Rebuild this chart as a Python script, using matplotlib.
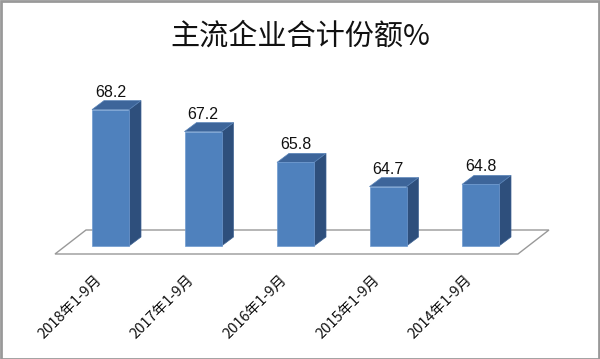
import numpy as np
import matplotlib
matplotlib.use("Agg")
import matplotlib.pyplot as plt
from matplotlib.patches import Polygon, Rectangle
from matplotlib.transforms import offset_copy

plt.rcParams['font.family'] = ['Noto Sans CJK SC', 'DejaVu Sans']

# data
categories = ['2018年1-9月', '2017年1-9月', '2016年1-9月', '2015年1-9月', '2014年1-9月']
values = [68.2, 67.2, 65.8, 64.7, 64.8]
title = '主流企业合计份额%'

front_c = '#4F81BD'
top_c = '#3D659A'
side_c = '#2E4F7C'

fig = plt.figure(figsize=(6.0, 3.59), dpi=100)
W, H = 600, 359
# axes placed so the floor sits where it does in the reference
ax = fig.add_axes([64.25 / W, (H - 246) / H, 462.5 / W, 187 / H])
ax.set_xlim(-0.5, 4.5)
ax.set_ylim(62, 70.5)
ax.axis('off')

x = np.arange(len(values))
bw = 0.4
ddx, ddy = 12, 9  # depth offset in pixels

fig.canvas.draw()
T = ax.transData

# floor parallelogram (drawn in pixels from axis positions)
fl, fb = T.transform((-0.6, 62))
fr, _ = T.transform((4.405, 62))
fb = fb - 8
floor = Polygon([(fl, fb), (fr, fb), (fr + 31, fb + 24), (fl + 31, fb + 24)],
                closed=True, facecolor='white', edgecolor='#999999', lw=1.0,
                transform=None, zorder=1)
fig.patches.append(floor)

for xi, v in zip(x, values):
    (x0, y0) = T.transform((xi - bw / 2, 62))
    (x1, y1) = T.transform((xi + bw / 2, v))
    front = Polygon([(x0, y0), (x1, y0), (x1, y1), (x0, y1)], closed=True,
                    facecolor=front_c, edgecolor='#6F9AD0', lw=0.5,
                    transform=None, zorder=3)
    side = Polygon([(x1, y0), (x1 + ddx, y0 + ddy), (x1 + ddx, y1 + ddy), (x1, y1)],
                   closed=True, facecolor=side_c, edgecolor='#3F6393', lw=0.5,
                   transform=None, zorder=3)
    top = Polygon([(x0, y1), (x1, y1), (x1 + ddx, y1 + ddy), (x0 + ddx, y1 + ddy)],
                  closed=True, facecolor=top_c, edgecolor='#5A84B8', lw=0.5,
                  transform=None, zorder=3)
    for p in (side, top, front):
        fig.patches.append(p)
    # value label
    ax.text(xi, v, f'{v:.1f}', ha='center', va='bottom', fontsize=11.5,
            family='Liberation Sans', color='#111111',
            transform=offset_copy(T, fig=fig, x=0, y=(ddy + 1) * 72 / 100, units='points'))

# category labels, rotated
for xi, c in zip(x, categories):
    ax.text(xi, 62, c, rotation=45, ha='right', va='top', fontsize=10.5,
            color='#111111',
            transform=offset_copy(T, fig=fig, x=-6 * 0.72, y=-27 * 0.72, units='points'))

fig.text(0.5, 1 - 37 / H, title, ha='center', va='center', fontsize=21, color='#111111')

# outer border
fig.patches.append(Rectangle((0.5, 0.5), W - 1.5, H - 1.5, fill=False,
                             edgecolor='#999999', lw=2, transform=None))

fig.savefig('out.png', dpi=100)
